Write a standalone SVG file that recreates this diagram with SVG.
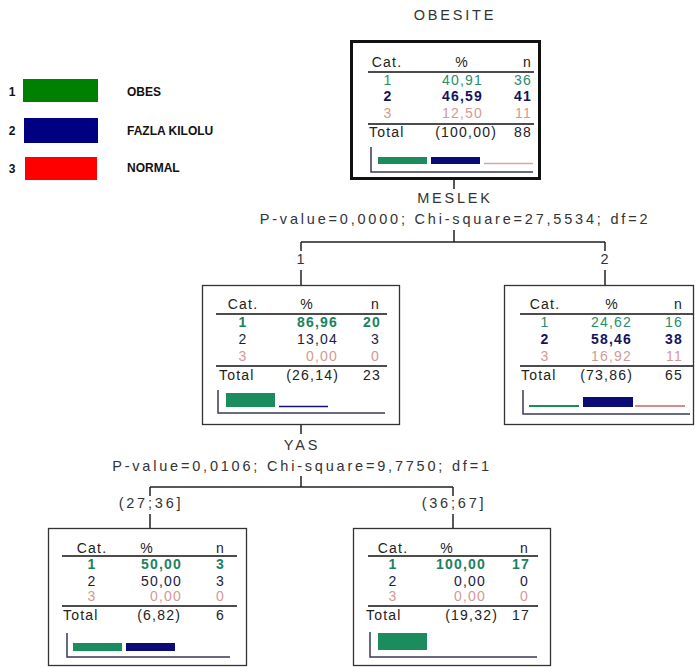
<svg xmlns="http://www.w3.org/2000/svg" width="695" height="668" viewBox="0 0 695 668">
<style>
text{font-family:"Liberation Sans",Arial,sans-serif;font-size:14px;letter-spacing:1.2px;fill:#222}
.lbl{font-size:14.5px;letter-spacing:2.8px;fill:#333}
.leg{letter-spacing:0;font-size:12px;font-weight:bold;fill:#111}
.c{text-anchor:middle}
.e{text-anchor:end}
.g{fill:#2a8c6c}
.gb{fill:#1b8260;font-weight:bold}
.nb{fill:#14145e;font-weight:bold}
.n{fill:#1c1c3c}
.r{fill:#d39a94}
.hl{stroke:#111;stroke-width:1.5}
.ax{stroke:#3a3a55;stroke-width:1.5;fill:none}
.box{fill:#fff;stroke:#333;stroke-width:1.3}
.con{stroke:#222;stroke-width:1.5;fill:none}
.bg{fill:#1a8c5e}
.bn{fill:#0b0b78}
</style>
<rect width="695" height="668" fill="#fff"/>

<g id="legend">
<text class="leg c" x="12" y="96">1</text>
<rect x="23" y="79" width="75" height="23" fill="#008000"/>
<text class="leg" x="127" y="96">OBES</text>
<text class="leg c" x="12" y="135">2</text>
<rect x="24" y="118" width="74" height="25" fill="#000080"/>
<text class="leg" x="127" y="135">FAZLA KILOLU</text>
<text class="leg c" x="12" y="173">3</text>
<rect x="25" y="157" width="72" height="23" fill="#ff0000"/>
<text class="leg" x="127" y="172">NORMAL</text>
</g>

<g id="connectors">
<path class="con" d="M454 179V189M454 230V242M301 242H605M301 242V251M605 242V251M301 270V285M605 270V285"/>
<path class="con" d="M301 425V434M301 476V487M150 487H453M150 487V496M453 487V496M150 514V528M453 514V528"/>
<text class="lbl c" x="455" y="203">MESLEK</text>
<text class="lbl c" x="455" y="224">P-value=0,0000; Chi-square=27,5534; df=2</text>
<text class="lbl c" x="302" y="264">1</text>
<text class="lbl c" x="606" y="264">2</text>
<text class="lbl c" x="302" y="450">YAS</text>
<text class="lbl c" x="302" y="471">P-value=0,0106; Chi-square=9,7750; df=1</text>
<text class="lbl c" x="151" y="508">(27;36]</text>
<text class="lbl c" x="454" y="508">(36;67]</text>
</g>

<g id="root">
<text class="lbl c" x="455" y="20">OBESITE</text>
<rect x="351.5" y="41.5" width="188" height="137" fill="#fff" stroke="#111" stroke-width="3"/>
<text class="c" x="387" y="67">Cat.</text><text class="c" x="462" y="67">%</text><text class="e" x="532" y="67">n</text>
<line class="hl" x1="368" y1="72" x2="534" y2="72"/>
<text class="c g" x="388" y="85">1</text><text class="e g" x="483" y="85">40,91</text><text class="e g" x="532" y="85">36</text>
<text class="c nb" x="388" y="101">2</text><text class="e nb" x="483" y="101">46,59</text><text class="e nb" x="532" y="101">41</text>
<text class="c r" x="388" y="118">3</text><text class="e r" x="483" y="118">12,50</text><text class="e r" x="532" y="118">11</text>
<line class="hl" x1="368" y1="124" x2="534" y2="124"/>
<text x="369" y="137">Total</text><text class="e" x="497" y="137">(100,00)</text><text class="e" x="532" y="137">88</text>
<path class="ax" d="M371 147V172H533"/>
<rect class="bg" x="378" y="157" width="49" height="7"/>
<rect class="bn" x="431" y="157" width="49" height="7"/>
<line x1="484" y1="163.5" x2="533" y2="163.5" stroke="#d8a8a0" stroke-width="1.5"/>
</g>

<g id="node-meslek-1">
<rect class="box" x="202.5" y="285.5" width="197" height="139"/>
<text class="c" x="243" y="309">Cat.</text><text class="c" x="307" y="309">%</text><text class="e" x="380" y="309">n</text>
<line class="hl" x1="216" y1="314" x2="387" y2="314"/>
<text class="c gb" x="243" y="327">1</text><text class="e gb" x="338" y="327">86,96</text><text class="e gb" x="381" y="327">20</text>
<text class="c n" x="243" y="344">2</text><text class="e n" x="338" y="344">13,04</text><text class="e n" x="380" y="344">3</text>
<text class="c r" x="243" y="361">3</text><text class="e r" x="338" y="361">0,00</text><text class="e r" x="380" y="361">0</text>
<line class="hl" x1="216" y1="366" x2="387" y2="366"/>
<text x="219" y="380">Total</text><text class="e" x="339" y="380">(26,14)</text><text class="e" x="381" y="380">23</text>
<path class="ax" d="M218 390V413H385"/>
<rect class="bg" x="226" y="393" width="49" height="14"/>
<line x1="279" y1="406.5" x2="328" y2="406.5" stroke="#14146e" stroke-width="1.5"/>
</g>

<g id="node-meslek-2">
<rect class="box" x="504.5" y="285.5" width="189" height="139"/>
<text class="c" x="545" y="309">Cat.</text><text class="c" x="612" y="309">%</text><text class="e" x="683" y="309">n</text>
<line class="hl" x1="520" y1="314" x2="693" y2="314"/>
<text class="c g" x="545" y="327">1</text><text class="e g" x="632" y="327">24,62</text><text class="e g" x="683" y="327">16</text>
<text class="c nb" x="545" y="344">2</text><text class="e nb" x="632" y="344">58,46</text><text class="e nb" x="683" y="344">38</text>
<text class="c r" x="545" y="361">3</text><text class="e r" x="632" y="361">16,92</text><text class="e r" x="683" y="361">11</text>
<line class="hl" x1="520" y1="366" x2="693" y2="366"/>
<text x="521" y="380">Total</text><text class="e" x="633" y="380">(73,86)</text><text class="e" x="683" y="380">65</text>
<path class="ax" d="M523 390V414H690"/>
<line x1="529" y1="406" x2="579" y2="406" stroke="#1a8c5e" stroke-width="2"/>
<rect class="bn" x="583" y="397" width="50" height="10"/>
<line x1="635" y1="406" x2="685" y2="406" stroke="#d88c88" stroke-width="2"/>
</g>

<g id="node-yas-1">
<rect class="box" x="48.5" y="528.5" width="198" height="137"/>
<text class="c" x="92" y="553">Cat.</text><text class="c" x="147" y="553">%</text><text class="e" x="225" y="553">n</text>
<line class="hl" x1="62" y1="556" x2="237" y2="556"/>
<text class="c gb" x="92" y="569">1</text><text class="e gb" x="182" y="569">50,00</text><text class="e gb" x="225" y="569">3</text>
<text class="c n" x="92" y="586">2</text><text class="e n" x="182" y="586">50,00</text><text class="e n" x="225" y="586">3</text>
<text class="c r" x="92" y="601">3</text><text class="e r" x="182" y="601">0,00</text><text class="e r" x="225" y="601">0</text>
<line class="hl" x1="62" y1="606" x2="237" y2="606"/>
<text x="63" y="620">Total</text><text class="e" x="181" y="620">(6,82)</text><text class="e" x="225" y="620">6</text>
<path class="ax" d="M67 633V657H230"/>
<rect class="bg" x="73" y="643" width="49" height="8"/>
<rect class="bn" x="126" y="643" width="49" height="8"/>
</g>

<g id="node-yas-2">
<rect class="box" x="353.5" y="528.5" width="197" height="137"/>
<text class="c" x="393" y="553">Cat.</text><text class="c" x="447" y="553">%</text><text class="e" x="529" y="553">n</text>
<line class="hl" x1="368" y1="556" x2="538" y2="556"/>
<text class="c gb" x="393" y="569">1</text><text class="e gb" x="486" y="569">100,00</text><text class="e gb" x="530" y="569">17</text>
<text class="c n" x="393" y="586">2</text><text class="e n" x="486" y="586">0,00</text><text class="e n" x="529" y="586">0</text>
<text class="c r" x="393" y="601">3</text><text class="e r" x="486" y="601">0,00</text><text class="e r" x="529" y="601">0</text>
<line class="hl" x1="368" y1="606" x2="538" y2="606"/>
<text x="366" y="620">Total</text><text class="e" x="498" y="620">(19,32)</text><text class="e" x="530" y="620">17</text>
<path class="ax" d="M370 632V657H537"/>
<rect class="bg" x="378" y="633" width="49" height="17"/>
</g>
</svg>
